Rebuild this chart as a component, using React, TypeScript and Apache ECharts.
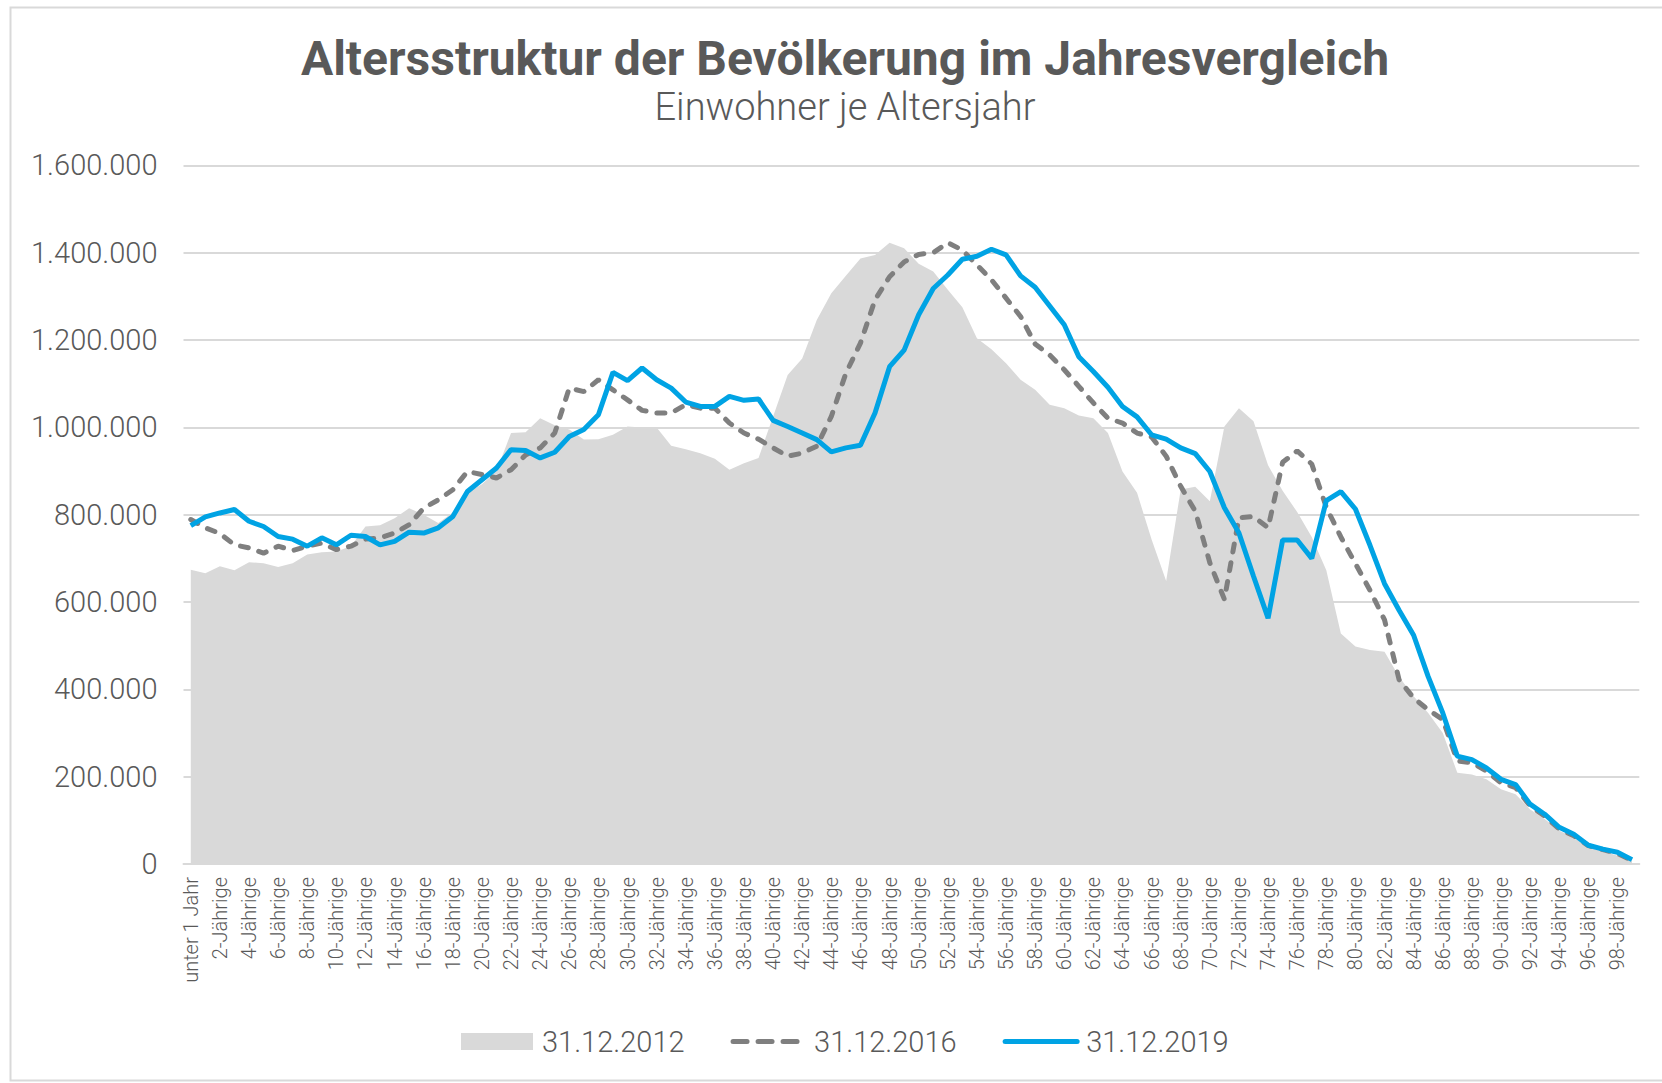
import React, { useEffect, useRef } from "react";
import * as echarts from "echarts";

// Categories: age years 0..99
const categories: string[] = [
  "unter 1 Jahr",
  ...Array.from({ length: 99 }, (_, i) => `${i + 1}-Jährige`),
];

// Y axis ticks (in thousands of inhabitants)
const yMin = 0;
const yMax = 1600;
const yInterval = 200;

// Inhabitants per age year, in thousands
const pop2012 = [
  674, 666, 682, 673, 691, 689, 680, 689, 709, 714,
  716, 728, 773, 776, 792, 815, 800, 781, 805, 850,
  870, 900, 987, 989, 1021, 1005, 995, 972, 973, 983,
  1002, 1000, 1000, 958, 950, 941, 928, 903, 918, 930,
  1025, 1120, 1158, 1246, 1307, 1347, 1387, 1395, 1423, 1410,
  1375, 1357, 1315, 1275, 1204, 1179, 1147, 1109, 1086, 1052,
  1044, 1027, 1021, 987, 899, 850, 743, 648, 858, 864,
  831, 1002, 1044, 1014, 913, 855, 806, 749, 673, 528,
  498, 490, 486, 429, 384, 346, 300, 209, 205, 194,
  171, 160, 125, 103, 76, 61, 38, 30, 19, 8,
];

const pop2016 = [
  789, 770, 757, 731, 724, 712, 728, 718, 728, 735,
  720, 728, 744, 747, 758, 777, 815, 834, 857, 899,
  892, 884, 903, 937, 953, 987, 1090, 1082, 1109, 1086,
  1063, 1039, 1033, 1033, 1052, 1044, 1044, 1010, 987, 973,
  953, 934, 941, 957, 1025, 1124, 1193, 1292, 1345, 1379,
  1396, 1400, 1423, 1406, 1372, 1338, 1296, 1254, 1191, 1166,
  1132, 1094, 1056, 1021, 1010, 987, 978, 934, 865, 808,
  690, 606, 793, 796, 770, 920, 946, 916, 817, 749,
  688, 627, 559, 422, 380, 353, 331, 236, 232, 213,
  186, 175, 133, 110, 80, 65, 42, 33, 24, 8,
];

const pop2019 = [
  775, 795, 804, 812, 785, 773, 750, 744, 728, 747,
  731, 753, 750, 731, 739, 760, 758, 770, 796, 853,
  880, 907, 949, 947, 930, 943, 979, 995, 1029, 1126,
  1107, 1136, 1109, 1090, 1058, 1048, 1048, 1071, 1062, 1065,
  1016, 1002, 987, 972, 944, 953, 959, 1033, 1139, 1177,
  1258, 1318, 1349, 1385, 1392, 1408, 1395, 1347, 1321, 1278,
  1235, 1162, 1128, 1092, 1048, 1024, 983, 973, 953, 940,
  899, 816, 758, 659, 563, 742, 742, 700, 832, 853,
  813, 730, 642, 581, 524, 429, 346, 247, 239, 220,
  194, 182, 137, 114, 84, 68, 43, 34, 27, 10,
];

const seriesNames = ["31.12.2012", "31.12.2016", "31.12.2019"];

const TEXT = "#595959";
const GRID = "#d9d9d9";
const AREA = "#d9d9d9";
const DASH = "#7f7f7f";
const BLUE = "#00a3e4";
const LIGHT_FONT = "Roboto, 'Liberation Sans', sans-serif";

function formatDE(v: number): string {
  if (v === 0) return "0";
  return String(v * 1000).replace(/\B(?=(\d{3})+(?!\d))/g, ".");
}

export default function App() {
  const ref = useRef<HTMLDivElement>(null);

  useEffect(() => {
    if (!ref.current) return;
    const chart = echarts.init(ref.current, undefined, { renderer: "svg" });
    chart.setOption({
      animation: false,
      backgroundColor: "#ffffff",
      title: [
        {
          text: "Altersstruktur der Bevölkerung im Jahresvergleich",
          left: 840,
          textAlign: "center",
          top: 29,
          textStyle: {
            fontFamily: "Roboto, sans-serif",
            fontWeight: "bold",
            fontSize: 48,
            color: TEXT,
          },
        },
        {
          text: "Einwohner je Altersjahr",
          left: 840,
          textAlign: "center",
          top: 83,
          textStyle: {
            fontFamily: LIGHT_FONT,
            fontWeight: 300,
            fontSize: 38,
            color: TEXT,
          },
        },
      ],
      graphic: [
        {
          type: "rect",
          silent: true,
          shape: { x: 10.5, y: 7.5, width: 1700, height: 1073 },
          style: { fill: "none", stroke: GRID, lineWidth: 2 },
        },
      ],
      legend: {
        left: 456,
        top: 1022,
        itemWidth: 72,
        itemHeight: 17,
        itemGap: 46,
        itemStyle: { opacity: 0 },
        textStyle: {
          fontFamily: LIGHT_FONT,
          fontWeight: 300,
          fontSize: 29,
          color: TEXT,
          padding: [0, 0, 0, 4],
        },
        data: [
          {
            name: seriesNames[0],
            icon: "rect",
            itemStyle: { color: AREA, opacity: 1 },
          },
          {
            name: seriesNames[1],
            lineStyle: { width: 5, type: [14, 11], cap: "round", color: DASH },
          },
          {
            name: seriesNames[2],
            lineStyle: { width: 5, color: BLUE, cap: "round" },
          },
        ],
      },
      grid: {
        left: 183.5,
        right: 22.7,
        top: 165.4,
        bottom: 219,
        containLabel: false,
      },
      xAxis: {
        type: "category",
        data: categories,
        boundaryGap: true,
        axisLine: { show: true, lineStyle: { color: GRID, width: 2 } },
        axisTick: { show: false },
        axisLabel: {
          interval: 1,
          rotate: 90,
          margin: 13,
          fontFamily: LIGHT_FONT,
          fontWeight: 300,
          fontSize: 20,
          color: TEXT,
        },
      },
      yAxis: {
        type: "value",
        min: yMin,
        max: yMax,
        interval: yInterval,
        axisLine: { show: false },
        axisTick: { show: false },
        splitLine: { lineStyle: { color: GRID, width: 2 } },
        axisLabel: {
          formatter: formatDE,
          margin: 26,
          fontFamily: LIGHT_FONT,
          fontWeight: 300,
          fontSize: 29,
          color: TEXT,
        },
      },
      series: [
        {
          name: seriesNames[0],
          type: "line",
          data: pop2012,
          symbol: "none",
          showSymbol: false,
          color: AREA,
          lineStyle: { width: 0, color: AREA },
          areaStyle: { color: AREA, opacity: 1 },
          z: 1,
        },
        {
          name: seriesNames[1],
          type: "line",
          data: pop2016,
          symbol: "none",
          showSymbol: false,
          color: DASH,
          lineStyle: { width: 5, type: [8, 11], cap: "round", color: DASH },
          z: 2,
        },
        {
          name: seriesNames[2],
          type: "line",
          data: pop2019,
          symbol: "none",
          showSymbol: false,
          color: BLUE,
          lineStyle: { width: 5, color: BLUE },
          z: 3,
        },
      ],
    });
    return () => chart.dispose();
  }, []);

  return (
    <div
      ref={ref}
      style={{
        position: "absolute",
        left: 0,
        top: 0,
        width: 1662,
        height: 1083,
        background: "#ffffff",
      }}
    />
  );
}
